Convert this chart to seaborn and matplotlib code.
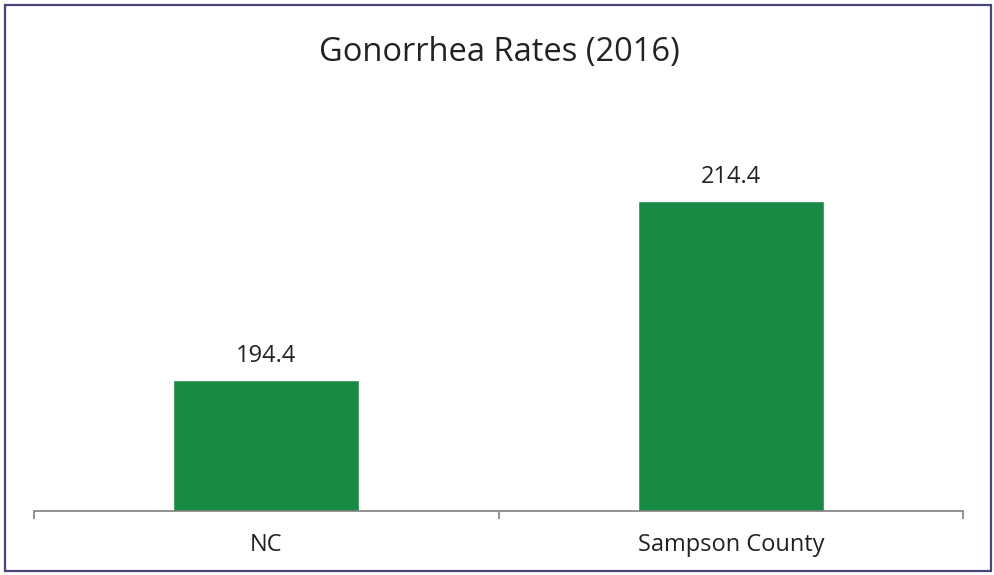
import matplotlib
matplotlib.use("Agg")
import matplotlib.pyplot as plt
import matplotlib.patches as mpatches
import seaborn as sns
import pandas as pd

regions = ["NC", "Sampson County"]
rates = [194.4, 214.4]
title = "Gonorrhea Rates (2016)"

sns.set_theme(style="white")
plt.rcParams["font.family"] = ["Open Sans", "DejaVu Sans"]

df = pd.DataFrame({"region": regions, "rate": rates})

W, H = 994, 575
fig = plt.figure(figsize=(W / 100, H / 100), dpi=100)
# axes: baseline at y=511px, 8.95 px per unit
ymin, ymax = 179.75, 222
base_px = 511
top_px = base_px - (ymax - ymin) * 8.95
ax = fig.add_axes([34 / W, (H - base_px) / H, (963 - 34) / W, (base_px - top_px) / H])

sns.barplot(data=df, x="region", y="rate", color="#198a43", width=0.4,
            saturation=1, ax=ax)
ax.set_ylim(ymin, ymax)
ax.set_xlim(-0.5, 1.5)

for i, v in enumerate(rates):
    ax.annotate(f"{v:.1f}", (i, v), xytext=(0, 13), textcoords="offset points",
                ha="center", va="baseline", fontsize=17, color="#222222")

ax.set_xlabel("")
ax.set_ylabel("")
ax.set_yticks([])
for s in ["left", "right", "top"]:
    ax.spines[s].set_visible(False)
ax.spines["bottom"].set_color("#808080")
ax.spines["bottom"].set_linewidth(1.2)

ax.set_xticks([0, 1])
ax.set_xticklabels(regions, fontsize=17, color="#222222")
ax.tick_params(axis="x", which="major", length=0, pad=16)
ax.set_xticks([-0.5, 0.5, 1.5], minor=True)
ax.tick_params(axis="x", which="minor", length=6, width=1.2, color="#808080",
               direction="out", bottom=True)

fig.text(499 / W, 1 - 53 / H, title, ha="center", va="center", fontsize=23.5,
         color="#222222")

# outer chart border
fig.patches.append(mpatches.Rectangle((5 / W, 4 / H), (991 - 5) / W, (570 - 4) / H,
                                      transform=fig.transFigure, fill=False,
                                      edgecolor="#45457a", linewidth=1.6))

fig.savefig("out.png", dpi=100)
